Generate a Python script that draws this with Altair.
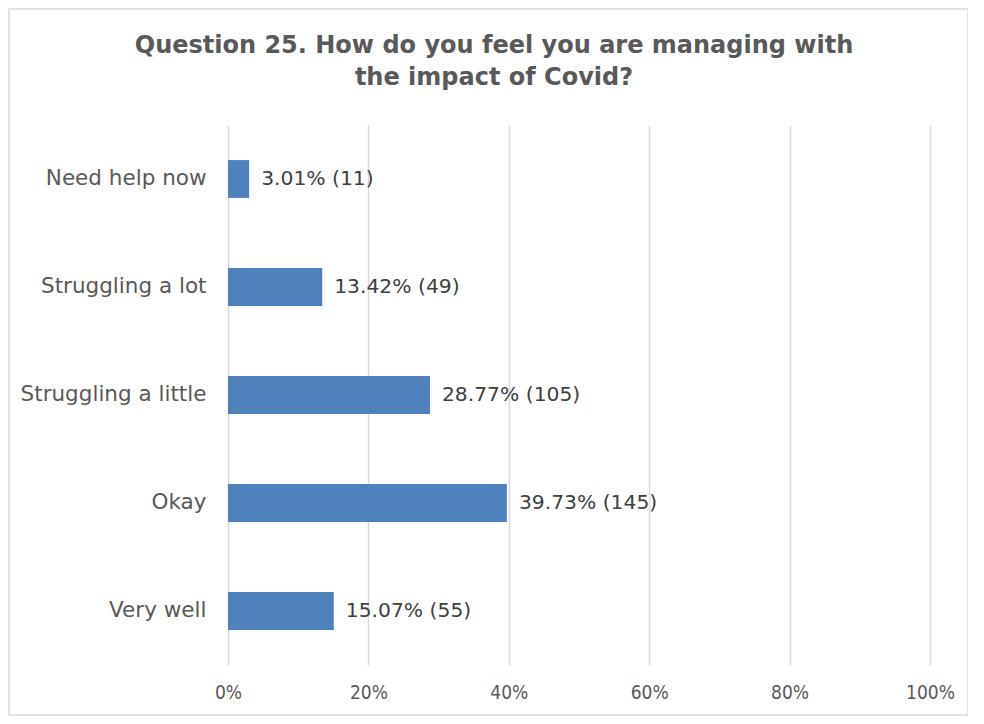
import altair as alt
import pandas as pd

categories = ["Need help now", "Struggling a lot", "Struggling a little", "Okay", "Very well"]
percents = [3.01, 13.42, 28.77, 39.73, 15.07]
counts = [11, 49, 105, 145, 55]
x_ticks = [0, 20, 40, 60, 80, 100]

df = pd.DataFrame({"category": categories, "pct": percents, "n": counts})
df["label"] = [f"{p:.2f}% ({c})" for p, c in zip(percents, counts)]

y_enc = alt.Y("category:N", sort=categories,
              scale=alt.Scale(paddingInner=0.65, paddingOuter=0.325),
              axis=alt.Axis(title=None, domain=False, ticks=False, labelPadding=22,
                            labelFont="DejaVu Sans", labelFontSize=21.5, labelColor="#595959",
                            labelLimit=300))
x_enc = alt.X("pct:Q", scale=alt.Scale(domain=[0, 100], nice=False),
              axis=alt.Axis(title=None, values=x_ticks, domain=False, ticks=False,
                            labelExpr="datum.value + '%'", labelPadding=18, labelFlush=False,
                            labelFont="DejaVu Sans Condensed", labelFontSize=19,
                            labelColor="#595959", grid=True, gridColor="#d9d9d9",
                            gridWidth=1.5))

bars = alt.Chart(df).mark_bar(color="#4F81BD").encode(x=x_enc, y=y_enc)
text = alt.Chart(df).mark_text(align="left", dx=12, font="DejaVu Sans", fontSize=20.3,
                               color="#404040").encode(
    x="pct:Q", y=alt.Y("category:N", sort=categories), text="label:N")

border = alt.Chart(pd.DataFrame({"a": [0]})).mark_rect(
    fill=None, stroke="#d9d9d9", strokeWidth=1.5).encode(
    x=alt.value(-219), x2=alt.value(740), y=alt.value(-116), y2=alt.value(590))

chart = alt.layer(border, bars, text).properties(
    width=702, height=540,
    autosize=alt.AutoSizeParams(type="none"),
    padding={"left": 220, "top": 117, "right": 38, "bottom": 51},
    title=alt.TitleParams(
        text=["Question 25. How do you feel you are managing with", "the impact of Covid?"],
        font="DejaVu Sans", fontSize=24, fontWeight="bold", color="#595959",
        anchor="middle", offset=-82, lineHeight=32, dx=-85),
).configure_view(stroke=None)

chart.save("out.html", embed_options={"renderer": "svg", "actions": False})
